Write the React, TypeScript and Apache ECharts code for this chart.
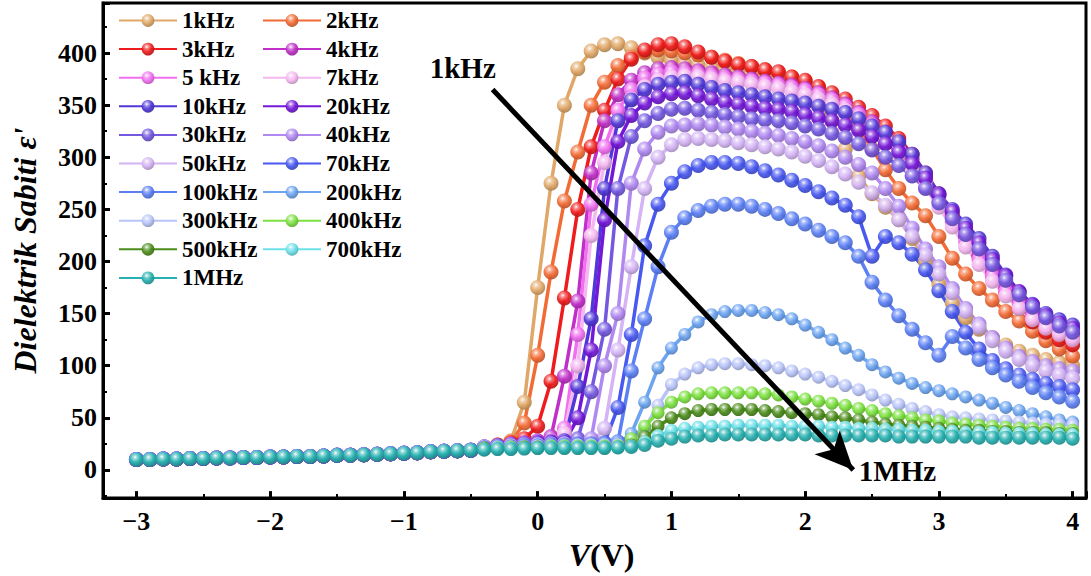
import React, { useEffect, useRef } from 'react';
import * as echarts from 'echarts';

const FONT = '"Liberation Serif", "Times New Roman", serif';

// Voltage grid (V)
const VOLTS_LOW = [-3.0, -2.9, -2.8, -2.7, -2.6, -2.5, -2.4, -2.3, -2.2, -2.1, -2.0, -1.9, -1.8, -1.7, -1.6, -1.5, -1.4, -1.3, -1.2, -1.1, -1.0, -0.9, -0.8, -0.7, -0.6, -0.5];
const VOLTS_HIGH = [-0.4, -0.3, -0.2, -0.1, 0.0, 0.1, 0.2, 0.3, 0.4, 0.5, 0.6, 0.7, 0.8, 0.9, 1.0, 1.1, 1.2, 1.3, 1.4, 1.5, 1.6, 1.7, 1.8, 1.9, 2.0, 2.1, 2.2, 2.3, 2.4, 2.5, 2.6, 2.7, 2.8, 2.9, 3.0, 3.1, 3.2, 3.3, 3.4, 3.5, 3.6, 3.7, 3.8, 3.9, 4.0];

// Common low-voltage part (all frequencies overlap here)
const EPS_LOW = [10, 10, 10.5, 10.5, 11, 11, 11.5, 11.5, 12, 12, 12.5, 12.5, 13, 13, 13.5, 14, 14, 14.5, 15, 15.5, 16, 16.5, 17.5, 18, 18.5, 19];

const FREQS = ['1kHz', '2kHz', '3kHz', '4kHz', '5 kHz', '7kHz', '10kHz', '20kHz', '30kHz', '40kHz', '50kHz', '70kHz', '100kHz', '200kHz', '300kHz', '400kHz', '500kHz', '700kHz', '1MHz'];
const COLORS = ['#E0A868', '#F26B35', '#EE1C1C', '#C030C8', '#F070F0', '#F4B8F0', '#5038D8', '#7418D8', '#7458E0', '#B088F0', '#D4B4F4', '#4858F0', '#5C80F4', '#6CA4F0', '#B8C4F8', '#7CE040', '#4C8C1C', '#6CE0E8', '#28B0B0'];

const EPS_1K = [21, 23, 28, 65, 175, 275, 350, 385, 402, 408, 409, 405, 400, 396, 393, 390, 388, 386, 384, 382, 380, 377, 374, 370, 365, 352, 335, 308, 282, 265, 252, 240, 222, 200, 178, 160, 146, 135, 127, 120, 114, 110, 106, 103, 100];
const EPS_2K = [22, 24, 27, 45, 110, 190, 258, 305, 350, 372, 388, 396, 401, 403, 402, 400, 398, 396, 393, 390, 387, 384, 381, 377, 373, 367, 358, 345, 328, 308, 288, 270, 256, 244, 224, 203, 188, 174, 163, 152, 143, 133, 124, 116, 109];
const EPS_3K = [22, 24, 26, 30, 42, 85, 165, 250, 310, 345, 375, 394, 403, 408, 409, 406, 401, 396, 392, 389, 387, 384, 382, 377, 374, 368, 362, 356, 348, 340, 330, 318, 303, 285, 265, 245, 225, 205, 187, 170, 155, 142, 132, 125, 120];
const EPS_4K = [22, 23, 25, 26, 28, 32, 90, 162, 285, 335, 360, 374, 381, 385, 386, 385, 383, 381, 379, 377, 375, 373, 371, 369, 366, 362, 357, 351, 343, 334, 324, 312, 298, 282, 263, 243, 224, 206, 190, 175, 162, 151, 142, 135, 130];
const EPS_5K = [22, 23, 24, 25, 26, 28, 40, 130, 255, 310, 345, 365, 376, 380, 382, 381, 380, 378, 376, 375, 373, 371, 369, 367, 364, 360, 355, 349, 341, 331, 320, 308, 294, 277, 258, 238, 219, 202, 186, 171, 158, 147, 138, 132, 127];
const EPS_7K = [22, 23, 24, 25, 26, 27, 35, 100, 225, 295, 335, 356, 368, 374, 377, 378, 377, 375, 373, 372, 370, 368, 366, 363, 360, 356, 351, 345, 337, 327, 316, 303, 288, 271, 252, 233, 214, 197, 181, 167, 155, 144, 136, 130, 125];
const EPS_10K = [22, 23, 24, 25, 26, 27, 28, 80, 145, 270, 335, 355, 365, 370, 372, 373, 370, 367, 364, 362, 360, 358, 356, 354, 352, 349, 346, 343, 337, 330, 324, 315, 303, 285, 265, 250, 236, 222, 205, 187, 171, 159, 150, 144, 139];
const EPS_20K = [22, 23, 24, 25, 26, 26, 26, 50, 115, 240, 315, 340, 352, 358, 361, 362, 359, 356, 353, 351, 349, 347, 346, 344, 341, 338, 335, 331, 326, 320, 313, 305, 294, 280, 264, 248, 232, 218, 202, 186, 171, 158, 148, 141, 136];
const EPS_30K = [22, 23, 24, 25, 25, 25, 25, 30, 75, 135, 270, 320, 335, 342, 346, 347, 345, 343, 341, 339, 337, 336, 335, 333, 330, 327, 323, 319, 313, 307, 300, 292, 282, 270, 256, 241, 226, 212, 197, 182, 168, 156, 146, 138, 132];
const EPS_40K = [22, 22, 23, 24, 24, 25, 25, 25, 30, 100, 150, 275, 308, 324, 330, 331, 332, 331, 329, 327, 325, 323, 321, 318, 315, 311, 306, 300, 293, 285, 270, 253, 232, 212, 195, 174, 155, 140, 127, 117, 109, 104, 100, 97, 95];
const EPS_50K = [22, 22, 23, 23, 24, 24, 25, 25, 25, 40, 115, 195, 270, 300, 312, 317, 318, 317, 316, 314, 312, 310, 308, 305, 301, 297, 291, 284, 276, 266, 254, 240, 224, 206, 188, 170, 152, 137, 124, 114, 106, 100, 95, 91, 88];
const EPS_70K = [21, 22, 22, 23, 23, 24, 24, 25, 25, 26, 60, 130, 215, 255, 275, 286, 292, 295, 295, 294, 291, 287, 283, 278, 273, 267, 261, 254, 243, 205, 224, 218, 207, 192, 172, 152, 132, 116, 105, 97, 91, 87, 83, 80, 77];
const EPS_100K = [21, 22, 22, 23, 23, 24, 24, 24, 25, 25, 27, 95, 145, 195, 228, 242, 249, 253, 255, 255, 253, 250, 246, 241, 236, 230, 224, 218, 205, 180, 163, 148, 135, 122, 110, 128, 117, 106, 98, 91, 85, 79, 74, 70, 66];
const EPS_200K = [21, 22, 22, 23, 23, 23, 24, 24, 24, 24, 25, 35, 65, 98, 117, 130, 142, 149, 152, 153, 153, 151, 149, 145, 139, 132, 125, 117, 110, 101, 94, 88, 83, 79, 76, 73, 70, 67, 64, 60, 57, 54, 51, 48, 46];
const EPS_300K = [21, 22, 22, 22, 23, 23, 23, 24, 24, 24, 24, 27, 40, 62, 82, 92, 98, 101, 102, 102, 101, 100, 98, 95, 92, 89, 85, 81, 77, 72, 67, 63, 59, 56, 53, 51, 50, 49, 48, 47, 46, 45, 44, 44, 43];
const EPS_400K = [21, 21, 22, 22, 22, 23, 23, 23, 23, 23, 23, 30, 42, 55, 65, 70, 73, 74, 74, 74, 74, 73, 72, 70, 68, 66, 64, 62, 59, 57, 54, 52, 50, 48, 47, 45, 44, 43, 42, 41, 40, 40, 39, 39, 38];
const EPS_500K = [21, 21, 21, 22, 22, 22, 22, 22, 22, 22, 22, 24, 32, 42, 50, 54, 57, 58, 58, 58, 58, 57, 56, 55, 54, 53, 51, 50, 48, 46, 44, 43, 42, 41, 40, 39, 38, 38, 37, 37, 36, 36, 36, 35, 35];
const EPS_700K = [20, 21, 21, 21, 21, 22, 22, 22, 22, 22, 22, 23, 27, 33, 38, 40, 41, 42, 42, 43, 43, 43, 43, 42, 42, 42, 41, 41, 40, 40, 39, 39, 38, 38, 37, 37, 36, 36, 36, 35, 35, 35, 34, 34, 34];
const EPS_1M = [19.5, 20, 20, 20.5, 21, 21, 21, 21, 21, 21, 21.5, 22, 24, 28, 30, 32, 33, 33, 34, 34, 34, 34, 34, 34, 34, 33, 33, 33, 33, 33, 33, 32, 32, 32, 32, 32, 32, 31, 31, 31, 31, 31, 31, 31, 30];

const EPS_HIGH = [EPS_1K, EPS_2K, EPS_3K, EPS_4K, EPS_5K, EPS_7K, EPS_10K, EPS_20K, EPS_30K, EPS_40K, EPS_50K, EPS_70K, EPS_100K, EPS_200K, EPS_300K, EPS_400K, EPS_500K, EPS_700K, EPS_1M];

const LEGEND_LEFT = ['1kHz', '3kHz', '5 kHz', '10kHz', '30kHz', '50kHz', '100kHz', '300kHz', '500kHz', '1MHz'];
const LEGEND_RIGHT = ['2kHz', '4kHz', '7kHz', '20kHz', '40kHz', '70kHz', '200kHz', '400kHz', '700kHz'];

// Annotation arrow (data coordinates)
const ARROW_START = [-0.337, 365];
const ARROW_END = [2.36, 0];
const NOTE_HIGH = { text: '1kHz', at: [-0.56, 386] };
const NOTE_LOW = { text: '1MHz', at: [2.69, -1] };

function shade(hex: string, amt: number) {
  const n = parseInt(hex.slice(1), 16);
  let r = n >> 16, g = (n >> 8) & 255, b = n & 255;
  if (amt >= 0) {
    r += (255 - r) * amt; g += (255 - g) * amt; b += (255 - b) * amt;
  } else {
    r *= 1 + amt; g *= 1 + amt; b *= 1 + amt;
  }
  return `rgb(${Math.round(r)},${Math.round(g)},${Math.round(b)})`;
}

function ball(hex: string) {
  return {
    type: 'radial', x: 0.4, y: 0.33, r: 0.7,
    colorStops: [
      { offset: 0, color: '#ffffff' },
      { offset: 0.2, color: shade(hex, 0.5) },
      { offset: 0.55, color: hex },
      { offset: 1, color: shade(hex, -0.25) },
    ],
  };
}

export default function App() {
  const ref = useRef<HTMLDivElement>(null);
  useEffect(() => {
    if (!ref.current) return;
    const chart = echarts.init(ref.current, undefined, { renderer: 'svg' });
    const series: any[] = FREQS.map((name, i) => ({
      name,
      type: 'line',
      data: [
        ...VOLTS_LOW.map((v, j) => [v, EPS_LOW[j]]),
        ...VOLTS_HIGH.map((v, j) => [v, EPS_HIGH[i][j]]),
      ],
      symbol: 'circle',
      symbolSize: i < 13 ? 15 : 13,
      showSymbol: true,
      lineStyle: { color: COLORS[i], width: 3.5 },
      itemStyle: { color: ball(COLORS[i]), opacity: 0.93 },
      emphasis: { disabled: true },
    }));
    const last = series[series.length - 1];
    last.symbolSize = 14;
    last.markLine = {
      silent: true,
      symbol: ['none', 'arrow'],
      symbolSize: [26, 38],
      lineStyle: { color: '#000', width: 5, type: 'solid' },
      label: { show: false },
      emphasis: { disabled: true },
      data: [[{ coord: ARROW_START }, { coord: ARROW_END }]],
    };
    last.markPoint = {
      silent: true,
      symbol: 'rect',
      symbolSize: [2, 2],
      itemStyle: { color: 'rgba(0,0,0,0)' },
      label: {
        show: true, position: 'inside', color: '#000', fontFamily: FONT,
        fontWeight: 'bold', fontSize: 29, formatter: (p: any) => p.name,
      },
      data: [
        { name: NOTE_HIGH.text, coord: NOTE_HIGH.at },
        { name: NOTE_LOW.text, coord: NOTE_LOW.at },
      ],
    };

    const legendCommon = {
      orient: 'vertical',
      top: 9,
      itemWidth: 58,
      itemHeight: 16,
      itemGap: 5.6,
      padding: 0,
      selectedMode: false,
      textStyle: { fontFamily: FONT, fontWeight: 'bold', fontSize: 23, color: '#000' },
    };

    const labelStyle = {
      fontFamily: FONT, fontWeight: 'bold', fontSize: 26, color: '#000',
    };

    chart.setOption({
      animation: false,
      backgroundColor: '#fff',
      legend: [
        { ...legendCommon, left: 118, data: LEGEND_LEFT },
        { ...legendCommon, left: 262, data: LEGEND_RIGHT },
      ],
      grid: {
        left: 103, right: 5, top: 3, bottom: 76,
        show: true, borderColor: '#000', borderWidth: 3, backgroundColor: 'transparent',
      },
      xAxis: {
        type: 'value', min: -3.25, max: 4.1, splitNumber: 7,
        axisLine: { show: true, onZero: false, lineStyle: { color: '#000', width: 3 } },
        axisTick: { show: true, inside: true, length: 7, lineStyle: { color: '#000', width: 3 } },
        minorTick: { show: true, splitNumber: 2, length: 4, lineStyle: { color: '#000', width: 2 } },
        splitLine: { show: false },
        minorSplitLine: { show: false },
        axisLabel: {
          ...labelStyle, margin: 10, showMinLabel: false, showMaxLabel: false,
          formatter: (v: number) => String(v).replace('-', '\u2212'),
        },
        name: '{i|V}{n|(V)}',
        nameLocation: 'middle',
        nameGap: 38,
        nameTextStyle: {
          padding: [0, 0, 0, 14],
          rich: {
            i: { fontFamily: FONT, fontWeight: 'bold', fontStyle: 'italic', fontSize: 32, color: '#000' },
            n: { fontFamily: FONT, fontWeight: 'bold', fontSize: 32, color: '#000' },
          },
        },
      },
      yAxis: {
        type: 'value', min: -27, max: 448, splitNumber: 9,
        axisLine: { show: true, onZero: false, lineStyle: { color: '#000', width: 3 } },
        axisTick: { show: true, inside: true, length: 7, lineStyle: { color: '#000', width: 3 } },
        minorTick: { show: true, splitNumber: 2, length: 4, lineStyle: { color: '#000', width: 2 } },
        splitLine: { show: false },
        minorSplitLine: { show: false },
        axisLabel: { ...labelStyle, margin: 6, showMinLabel: false, showMaxLabel: false },
        name: "Dielektrik Sabiti \u03b5'",
        nameLocation: 'middle',
        nameGap: 62,
        nameTextStyle: { fontFamily: FONT, fontWeight: 'bold', fontStyle: 'italic', fontSize: 32, color: '#000' },
      },
      series,
    });
    return () => chart.dispose();
  }, []);
  return (
    <div
      ref={ref}
      style={{ position: 'fixed', left: 0, top: 0, width: 1091, height: 576, background: '#fff' }}
    />
  );
}
